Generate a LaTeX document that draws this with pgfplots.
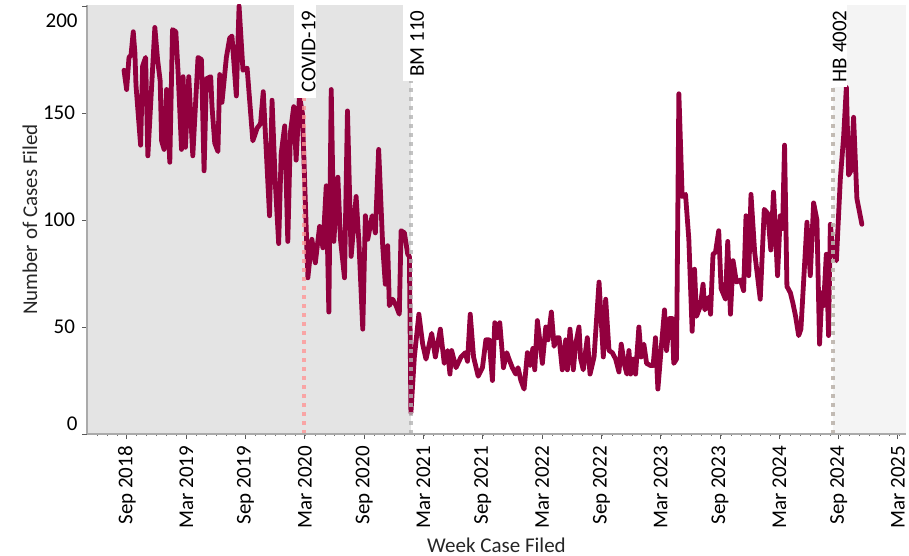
\documentclass[border=0pt]{standalone}
\usepackage{pgfplots}
\pgfplotsset{compat=1.18}
\usepackage{fontspec}
\setmainfont{Carlito}
\definecolor{lineRed}{RGB}{146,0,62}
\definecolor{bgLeft}{RGB}{228,228,228}
\definecolor{bgRight}{RGB}{244,244,244}
\definecolor{covidC}{RGB}{255,150,150}
\definecolor{bmC}{RGB}{180,180,180}
\definecolor{hbC}{RGB}{188,180,172}
\definecolor{axisC}{RGB}{170,170,170}
\newcommand{\lbl}{\fontsize{10.5}{12.6}\selectfont}
\begin{document}
\begin{tikzpicture}
\useasboundingbox (-43.5pt,-61pt) rectangle (411pt,217pt);
\begin{axis}[
  at={(0,0)}, anchor=south west,
  scale only axis, width=409.5pt, height=214.5pt,
  xmin=2018.330, xmax=2025.235, ymin=0, ymax=200.5,
  axis lines*=left, axis on top,
  axis line style={axisC, line width=0.6pt},
  clip mode=individual,
  xtick={2018.667,2019.167,2019.667,2020.167,2020.667,2021.167,2021.667,2022.167,2022.667,2023.167,2023.667,2024.167,2024.667,2025.167},
  xticklabels={Sep 2018,Mar 2019,Sep 2019,Mar 2020,Sep 2020,Mar 2021,Sep 2021,Mar 2022,Sep 2022,Mar 2023,Sep 2023,Mar 2024,Sep 2024,Mar 2025},
  minor xtick={2018.41667,2018.5,...,2025.2},
  ytick={50,100,150}, extra y ticks={0,200}, extra y tick labels={},
  tick align=outside, major tick length=2.5pt, minor tick length=1pt,
  tick style={color=black!65, line width=0.5pt},
  minor tick style={color=black!55, line width=0.5pt},
  /pgf/number format/assume math mode=true,
  xticklabel style={rotate=90, anchor=east, font=\lbl, text=black},
  yticklabel style={font=\lbl, text=black},
  xlabel={Week Case Filed}, ylabel={Number of Cases Filed},
  xlabel style={at={(axis description cs:0.5,0)}, anchor=center, yshift=-55.5pt, font=\lbl, text=black!85},
  ylabel style={at={(axis description cs:-0.0696,0.5)}, anchor=center, font=\lbl, text=black!85},
]
\fill[bgLeft] (axis cs:2018.330,0) rectangle (axis cs:2021.06,200.5);
\fill[bgRight] (axis cs:2024.622,0) rectangle (axis cs:2025.235,200.5);

\addplot[lineRed, line width=2.4pt, line join=round, line cap=round] coordinates {
(2018.642,170) (2018.664,161) (2018.684,176) (2018.701,177) (2018.720,188) (2018.734,178) (2018.743,163) (2018.782,135) (2018.799,172) (2018.824,176) (2018.843,130) (2018.902,190) (2018.925,175) (2018.947,165) (2018.959,137) (2018.980,133) (2019.001,161) (2019.028,127) (2019.051,189) (2019.079,188) (2019.098,169) (2019.127,133) (2019.140,167) (2019.160,134) (2019.188,167) (2019.222,130) (2019.266,176) (2019.295,175) (2019.317,123) (2019.337,166) (2019.373,167) (2019.384,153) (2019.407,136) (2019.434,132) (2019.449,168) (2019.468,155) (2019.505,176) (2019.533,185) (2019.552,186) (2019.589,158) (2019.612,200) (2019.645,170) (2019.680,171) (2019.728,137) (2019.765,143) (2019.793,145) (2019.816,160) (2019.869,102) (2019.890,156) (2019.917,118) (2019.946,89) (2019.967,131) (2019.997,144) (2020.023,90) (2020.045,141) (2020.073,153) (2020.093,128) (2020.121,158) (2020.146,150) (2020.192,73) (2020.226,91) (2020.255,80) (2020.291,97) (2020.319,87) (2020.347,116) (2020.369,57) (2020.389,161) (2020.411,90) (2020.445,120) (2020.467,91) (2020.501,73) (2020.526,151) (2020.557,83) (2020.599,111) (2020.623,89) (2020.655,49) (2020.677,102) (2020.697,91) (2020.734,102) (2020.761,94) (2020.789,133) (2020.823,88) (2020.845,70) (2020.865,88) (2020.879,60) (2020.907,63) (2020.936,60) (2020.963,56) (2020.978,95) (2021.006,94) (2021.034,84) (2021.048,83) (2021.061,10) (2021.090,36) (2021.128,56) (2021.160,42) (2021.188,35) (2021.236,47) (2021.267,36) (2021.309,49) (2021.342,33) (2021.370,39) (2021.390,28) (2021.404,39) (2021.441,31) (2021.483,36) (2021.519,38) (2021.538,34) (2021.561,56) (2021.589,36) (2021.628,27) (2021.664,31) (2021.693,44) (2021.720,44) (2021.748,25) (2021.768,52) (2021.790,45) (2021.810,52) (2021.841,31) (2021.869,38) (2021.888,35) (2021.916,31) (2021.945,28) (2021.964,31) (2021.988,25) (2022.015,21) (2022.043,38) (2022.066,32) (2022.089,40) (2022.105,30) (2022.127,53) (2022.147,44) (2022.169,33) (2022.198,50) (2022.217,44) (2022.245,57) (2022.268,41) (2022.290,45) (2022.310,45) (2022.337,30) (2022.366,44) (2022.380,30) (2022.402,49) (2022.430,30) (2022.450,42) (2022.478,50) (2022.492,35) (2022.514,30) (2022.548,45) (2022.571,28) (2022.605,36) (2022.647,71) (2022.683,36) (2022.703,63) (2022.731,39) (2022.759,38) (2022.787,35) (2022.815,29) (2022.834,42) (2022.863,32) (2022.882,28) (2022.899,39) (2022.913,28) (2022.935,35) (2022.955,28) (2022.983,50) (2023.002,36) (2023.025,42) (2023.048,33) (2023.081,32) (2023.103,32) (2023.123,45) (2023.143,21) (2023.168,38) (2023.199,58) (2023.216,39) (2023.243,54) (2023.263,54) (2023.277,33) (2023.300,35) (2023.320,159) (2023.348,111) (2023.376,112) (2023.404,91) (2023.432,48) (2023.452,77) (2023.469,55) (2023.502,60) (2023.524,70) (2023.539,58) (2023.572,64) (2023.587,56) (2023.608,84) (2023.629,85) (2023.656,95) (2023.676,68) (2023.713,63) (2023.732,90) (2023.755,56) (2023.777,81) (2023.805,71) (2023.839,72) (2023.866,67) (2023.886,102) (2023.909,74) (2023.928,112) (2023.959,85) (2024.006,63) (2024.040,105) (2024.070,103) (2024.095,86) (2024.118,113) (2024.152,74) (2024.175,102) (2024.194,96) (2024.211,135) (2024.231,69) (2024.260,66) (2024.282,61) (2024.304,55) (2024.330,46) (2024.349,49) (2024.400,99) (2024.428,74) (2024.456,108) (2024.484,100) (2024.506,42) (2024.526,66) (2024.540,60) (2024.563,84) (2024.582,46) (2024.597,98) (2024.620,85) (2024.648,81) (2024.681,119) (2024.709,139) (2024.732,162) (2024.751,121) (2024.770,123) (2024.793,148) (2024.821,110) (2024.863,98)
};

\draw[covidC, opacity=0.8, line width=2pt, dash pattern=on 2pt off 2.5pt] (axis cs:2020.162,0) -- (axis cs:2020.162,200.5);
\draw[bmC, opacity=0.8, line width=2pt, dash pattern=on 2pt off 2.5pt] (axis cs:2021.06,0) -- (axis cs:2021.06,200.5);
\draw[hbC, opacity=0.9, line width=2pt, dash pattern=on 2pt off 2.5pt] (axis cs:2024.622,0) -- (axis cs:2024.622,200.5);

\node[xshift=5.5pt, rotate=90, anchor=base east, fill=white, inner xsep=2.5pt, inner ysep=0pt, font=\lbl] at (axis cs:2020.162,200.5) {\rule[-0.5pt]{0pt}{11pt}COVID-19};
\node[xshift=6.5pt, rotate=90, anchor=base east, fill=white, inner xsep=2.5pt, inner ysep=0pt, font=\lbl] at (axis cs:2021.06,200.5) {\rule[-0.5pt]{0pt}{11pt}BM 110};
\node[xshift=6.5pt, rotate=90, anchor=base east, fill=white, inner xsep=2.5pt, inner ysep=0pt, font=\lbl] at (axis cs:2024.622,200.5) {\rule[-0.5pt]{0pt}{11pt}HB 4002};

\node[anchor=south east, inner sep=0pt, font=\lbl, xshift=-4.5pt, yshift=1.25pt] at (rel axis cs:0,0) {0};
\node[anchor=north east, inner sep=0pt, font=\lbl, xshift=-4.5pt, yshift=-3.75pt] at (axis cs:2018.330,200) {200};
\end{axis}
\end{tikzpicture}
\end{document}
